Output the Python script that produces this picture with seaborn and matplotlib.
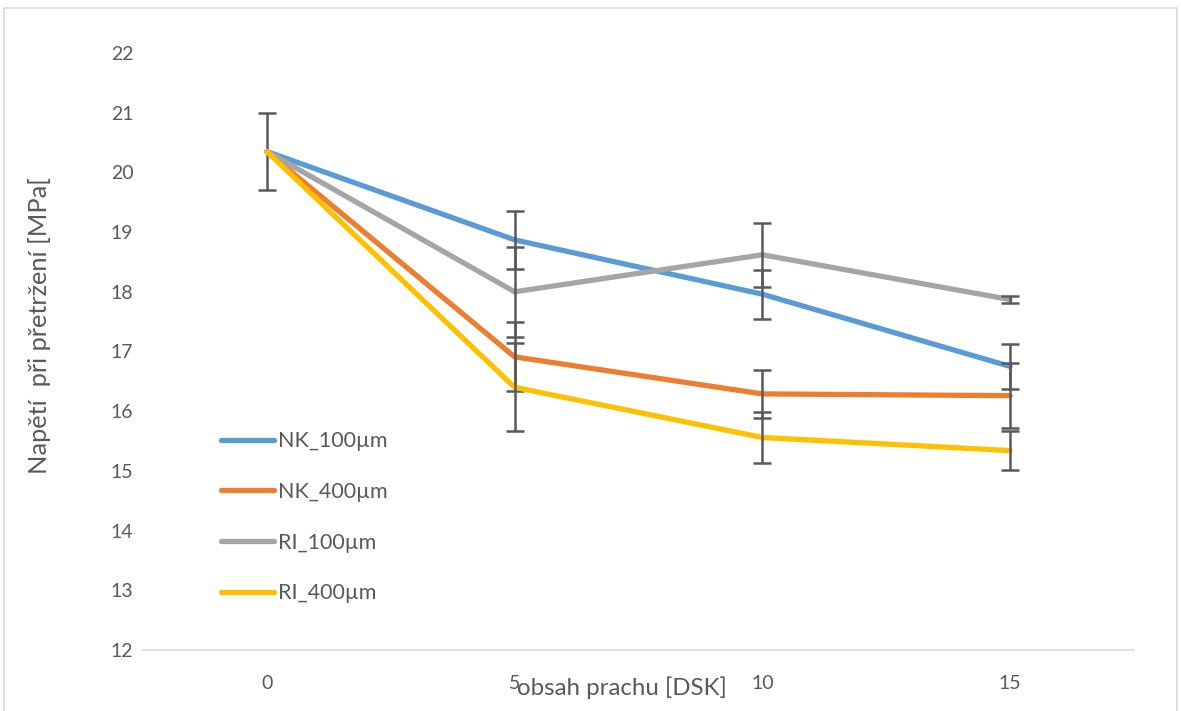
import numpy as np
import pandas as pd
import matplotlib
matplotlib.use("Agg")
import matplotlib.pyplot as plt
import seaborn as sns
from matplotlib.patches import Rectangle

# Dust content categories (x axis)
categories = ["0", "5", "10", "15"]

# Tensile strength means [MPa] per series
nk_100 = [20.35, 18.87, 17.96, 16.75]
nk_400 = [20.35, 16.91, 16.29, 16.26]
ri_100 = [20.35, 18.00, 18.62, 17.87]
ri_400 = [20.35, 16.40, 15.56, 15.34]

# Standard deviations (error bars) per series
nk_100_err = [0.64, 0.48, 0.41, 0.38]
nk_400_err = [np.nan, 0.58, 0.40, 0.54]
ri_100_err = [np.nan, 0.75, 0.54, 0.065]
ri_400_err = [np.nan, 0.735, 0.42, 0.33]

series_names = ["NK_100µm", "NK_400µm", "RI_100µm", "RI_400µm"]
colors = ["#5B9BD5", "#ED7D31", "#A5A5A5", "#FFC000"]

yticks = [12, 13, 14, 15, 16, 17, 18, 19, 20, 21, 22]

means = [nk_100, nk_400, ri_100, ri_400]
errs = [nk_100_err, nk_400_err, ri_100_err, ri_400_err]

rows = []
for name, m, e in zip(series_names, means, errs):
    for i, (cat, v, s) in enumerate(zip(categories, m, e)):
        rows.append({"pos": i, "cat": cat, "value": v, "err": s, "series": name})
df = pd.DataFrame(rows)

sns.set_theme(style="white")
plt.rcParams["font.family"] = ["Lato", "DejaVu Sans"]

text_color = "#595959"
fig = plt.figure(figsize=(11.81, 7.11), dpi=100)
ax = fig.add_axes([143 / 1181, 1 - 650 / 711, (1134 - 143) / 1181, (650 - 53) / 711])

# Outer chart frame
fig.patches.append(Rectangle((4 / 1181, -0.05), 1173 / 1181, 1 - 8 / 711 + 0.05,
                             transform=fig.transFigure, fill=False,
                             edgecolor="#D9D9D9", linewidth=1.2, zorder=0))

for k, (name, col) in enumerate(zip(series_names, colors)):
    sub = df[df["series"] == name]
    sns.lineplot(data=sub, x="pos", y="value", color=col, linewidth=3.8,
                 ax=ax, label=name, zorder=2 + 2 * k, solid_capstyle="round",
                 solid_joinstyle="round")
    eb = sub[np.isfinite(sub["err"])]
    ax.errorbar(eb["pos"], eb["value"], yerr=eb["err"], fmt="none",
                ecolor="#595959", elinewidth=1.8, capsize=6.5, capthick=1.8,
                zorder=3 + 2 * k)

ax.set_xlim(-0.5, 3.5)
ax.set_ylim(12, 22)
ax.set_xticks(range(len(categories)))
ax.set_xticklabels(categories)
ax.set_yticks(yticks)
ax.tick_params(axis="both", length=0, labelsize=14, colors=text_color)
ax.tick_params(axis="x", pad=18)
ax.tick_params(axis="y", pad=7)
ax.set_xlabel("")
ax.set_ylabel("")

for side in ["top", "right", "left"]:
    ax.spines[side].set_visible(False)
ax.spines["bottom"].set_color("#D9D9D9")
ax.spines["bottom"].set_linewidth(1.2)
ax.grid(False)

fig.text(622 / 1181, 1 - 688 / 711, "obsah prachu [DSK]", ha="center", va="center",
         fontsize=17.3, color=text_color)
fig.text(40 / 1181, 1 - 326 / 711, "Napětí  při přetržení [MPa[", ha="center",
         va="center", rotation=90, fontsize=18.3, color=text_color)

leg = ax.legend(loc="upper left", bbox_to_anchor=(202 / 1181, 1 - 412 / 711),
                bbox_transform=fig.transFigure, frameon=False, fontsize=15.5,
                handlelength=2.45, handletextpad=0.2, labelspacing=1.42)
for t in leg.get_texts():
    t.set_color(text_color)
for h in leg.get_lines():
    h.set_linewidth(3.8)
    h.set_solid_capstyle("round")

fig.savefig("out.png", dpi=100, facecolor="white")
